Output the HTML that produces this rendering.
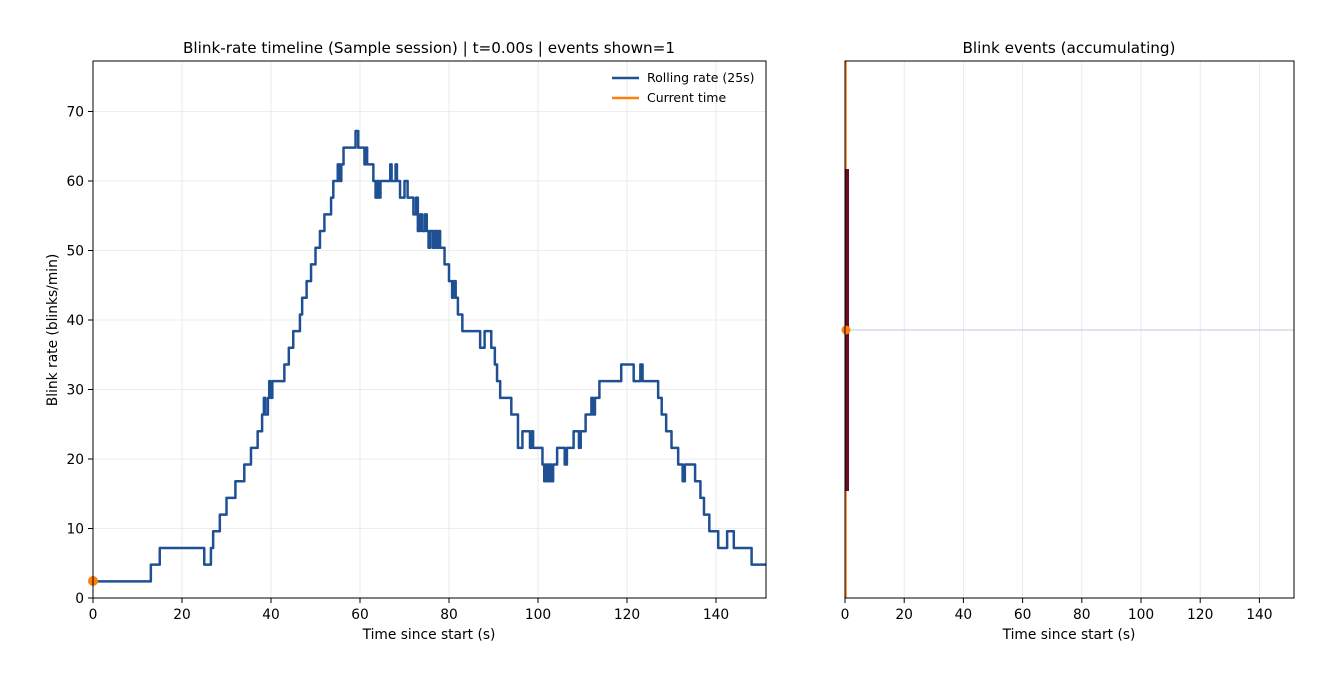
<!DOCTYPE html>
<html><head><meta charset="utf-8"><style>
body{margin:0;background:#fff}
svg{display:block;font-family:"DejaVu Sans","Liberation Sans",sans-serif}
</style></head><body>
<svg id="s" width="1320" height="680" xmlns="http://www.w3.org/2000/svg">
<defs><clipPath id="c1"><rect x="93" y="61" width="673" height="537"/></clipPath></defs>
<g id="grid" stroke="#e6e6e6" stroke-width="0.8"></g>
<text x="429" y="53" font-size="15.2" text-anchor="middle">Blink-rate timeline (Sample session) | t=0.00s | events shown=1</text>
<text x="1069" y="53" font-size="15.2" text-anchor="middle">Blink events (accumulating)</text>
<polyline id="curve" clip-path="url(#c1)" fill="none" stroke="#1f5094" stroke-width="2.5" stroke-linejoin="round"></polyline>
<line x1="845" y1="330" x2="1294" y2="330" stroke="#c7d4e2" stroke-width="1.2"/>
<line x1="846" y1="61" x2="846" y2="598" stroke="#ff7f0e" stroke-width="1.5"/>
<rect x="845" y="169" width="4" height="322" fill="#6b0b1e"/>
<circle cx="846" cy="330" r="4.5" fill="#ff7f0e"/>
<circle cx="93" cy="581" r="5" fill="#ff7f0e"/>
<rect x="93" y="61" width="673" height="537" fill="none" stroke="#000" stroke-width="1"/>
<rect x="845" y="61" width="449" height="537" fill="none" stroke="#000" stroke-width="1"/>
<g id="ticks" font-size="13.8" fill="#000"></g>
<text x="429" y="639" font-size="13.8" text-anchor="middle">Time since start (s)</text>
<text x="1069" y="639" font-size="13.8" text-anchor="middle">Time since start (s)</text>
<text transform="translate(57,330) rotate(-90)" font-size="13.8" text-anchor="middle">Blink rate (blinks/min)</text>
<line x1="612" y1="78" x2="639" y2="78" stroke="#1f5094" stroke-width="2.5"/>
<line x1="612" y1="98" x2="639" y2="98" stroke="#ff7f0e" stroke-width="2.5"/>
<text x="647" y="82" font-size="12.5">Rolling rate (25s)</text>
<text x="647" y="102" font-size="12.5">Current time</text>
</svg>
<script>
const NS="http://www.w3.org/2000/svg";
const g=document.getElementById('grid'),tk=document.getElementById('ticks');
function el(p,t,a,txt){const e=document.createElementNS(NS,t);for(const k in a)e.setAttribute(k,a[k]);if(txt!==undefined)e.textContent=txt;p.appendChild(e);return e;}
const lx=t=>93+t*4.45, rx=t=>845+t*2.96, ly=v=>598-v*6.95;
for(let t=0;t<=140;t+=20){
 el(g,'line',{x1:lx(t),y1:61,x2:lx(t),y2:598});
 el(g,'line',{x1:rx(t),y1:61,x2:rx(t),y2:598});
 el(tk,'line',{x1:lx(t),y1:598,x2:lx(t),y2:603,stroke:'#000'});
 el(tk,'line',{x1:rx(t),y1:598,x2:rx(t),y2:603,stroke:'#000'});
 el(tk,'text',{x:lx(t),y:619,'text-anchor':'middle'},t);
 el(tk,'text',{x:rx(t),y:619,'text-anchor':'middle'},t);
}
for(let v=0;v<=70;v+=10){
 if(v>0)el(g,'line',{x1:93,y1:ly(v),x2:766,y2:ly(v)});
 el(tk,'line',{x1:88,y1:ly(v),x2:93,y2:ly(v),stroke:'#000'});
 el(tk,'text',{x:84,y:ly(v)+5,'text-anchor':'end'},v);
}
const S=[[0,1],[13,2],[15,3],[25,2],[26.5,3],[27,4],[28.5,5],[30,6],[32,7],[34,8],[35.5,9],[37,10],[38,11],[38.4,12],[38.7,11],[39.3,12],[39.6,13],[39.9,12],[40.3,13],[41,13],[43,14],[44,15],[45,16],[46.5,17],[47,18],[48,19],[49,20],[50,21],[51,22],[52,23],[53.5,24],[54,25],[55,26],[55.4,25],[55.8,26],[56.3,27],[59,28],[59.6,27],[61,26],[61.3,27],[61.6,26],[63,25],[63.5,24],[63.9,25],[64.3,24],[64.6,25],[66.8,26],[67.1,25],[68,26],[68.3,25],[69,24],[70,25],[70.7,24],[72,23],[72.6,24],[73,22],[73.5,23],[74,22],[74.6,23],[75,22],[75.4,21],[75.8,22],[76.4,21],[76.8,22],[77.2,21],[77.6,22],[78,21],[79,20],[80,19],[80.7,18],[81,19],[81.5,18],[82,17],[83,16],[87,15],[88,16],[89.5,15],[90.3,14],[90.8,13],[91.5,12],[92.5,12],[94,11],[95.5,9],[96.5,10],[98.2,9],[98.6,10],[98.9,9],[101,8],[101.4,7],[101.8,8],[102.2,7],[102.6,8],[103,7],[103.4,8],[104.3,9],[106,8],[106.5,9],[108,10],[109.2,9],[109.6,10],[110.7,11],[112,12],[112.4,11],[112.8,12],[113.8,13],[118.7,14],[121.5,13],[123,14],[123.5,13],[127,12],[127.8,11],[128.8,10],[130,9],[131.5,8],[132.5,7],[133,8],[134.5,8],[135.3,7],[136.5,6],[137.3,5],[138.5,4],[140.5,3],[142.5,4],[144,3],[148,2],[152,2]];
let pts=[];for(let i=0;i<S.length;i++){const [t,k]=S[i];const y=598-16.68*k;
 if(i>0)pts.push(lx(t)+','+(598-16.68*S[i-1][1]));pts.push(lx(t)+','+y);}
document.getElementById('curve').setAttribute('points',pts.join(' '));
</script>
</body></html>
